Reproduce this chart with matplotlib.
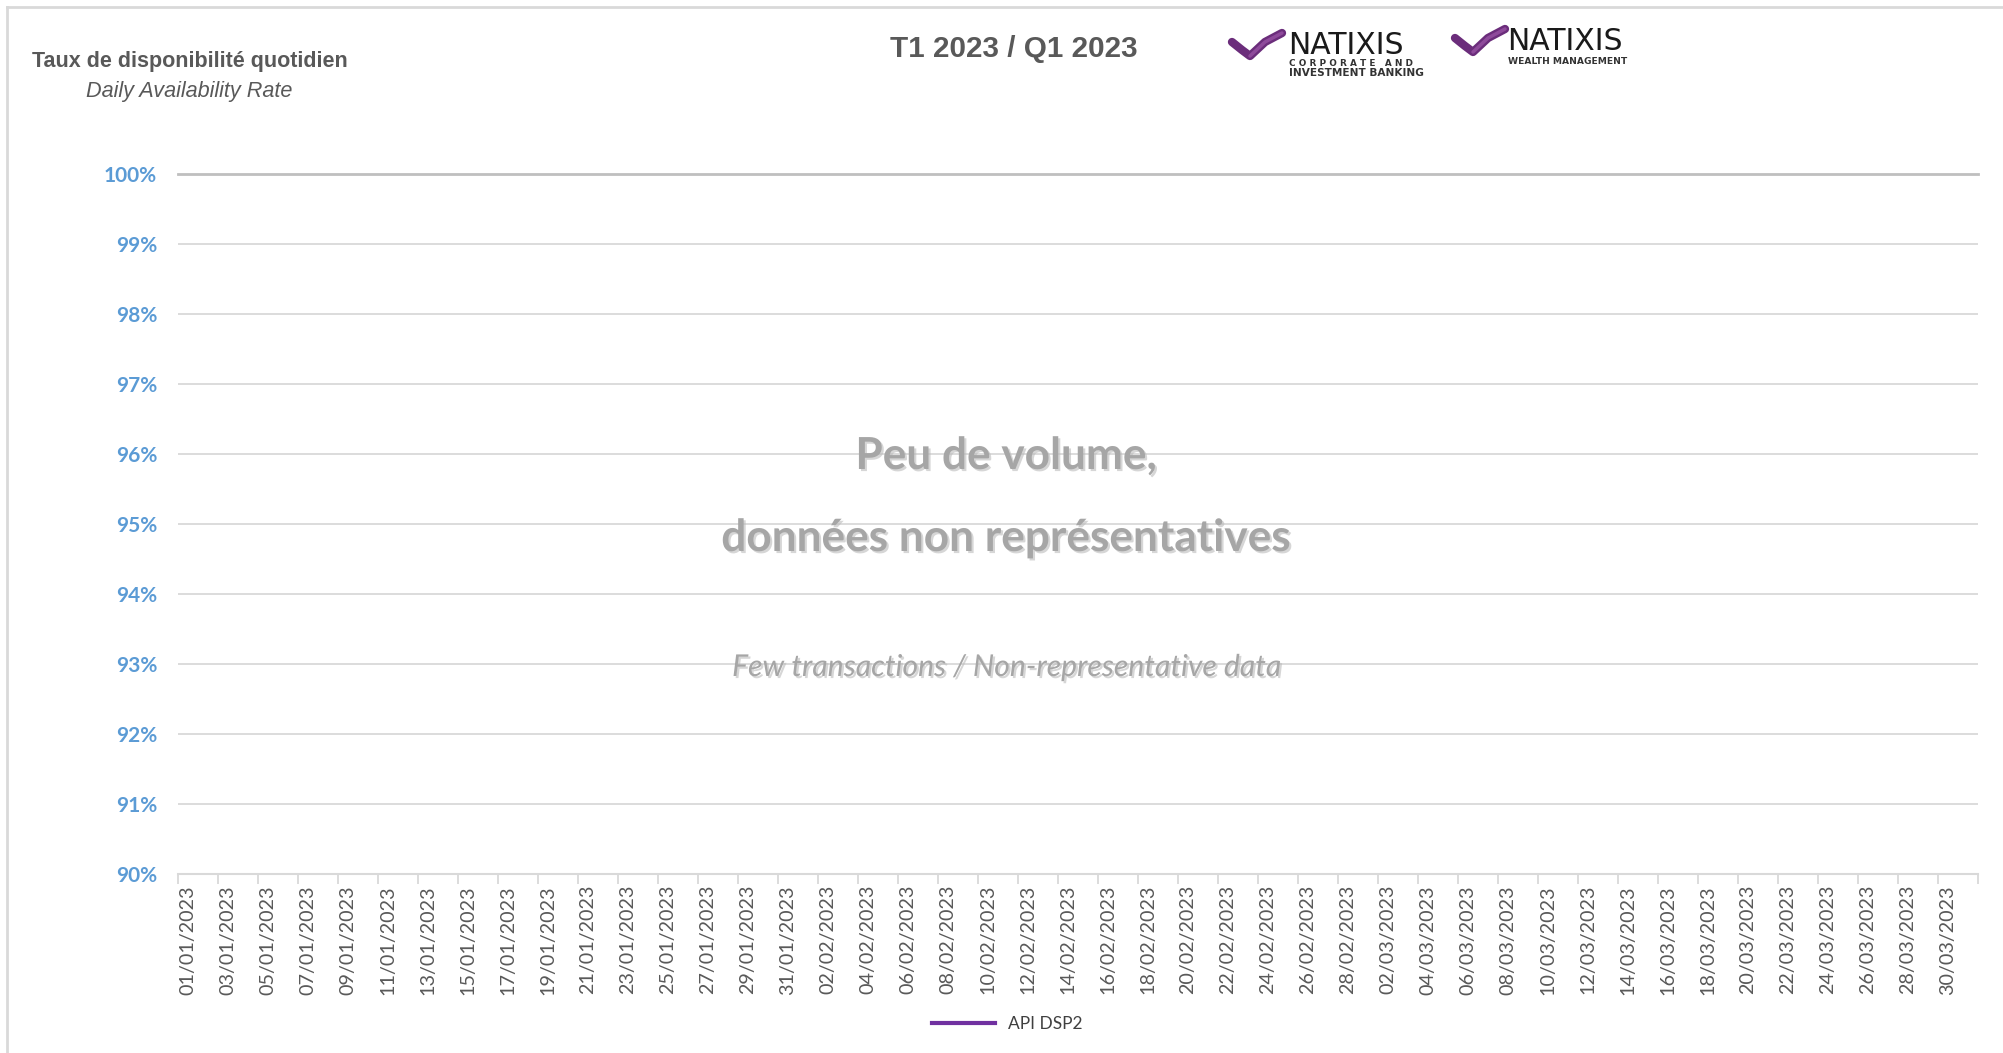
import numpy as np
import pandas as pd
import matplotlib
matplotlib.use('Agg')
import matplotlib.pyplot as plt
import matplotlib.patheffects as pe
from matplotlib.lines import Line2D

# days of Q1 2023 - one category per day
dates = pd.date_range('2023-01-01', '2023-03-31', freq='D').strftime('%d/%m/%Y').tolist()
# no representative volume -> nothing plotted for the series
api_dsp2 = [np.nan] * len(dates)
series_name = 'API DSP2'
y_ticks = [0.90, 0.91, 0.92, 0.93, 0.94, 0.95, 0.96, 0.97, 0.98, 0.99, 1.00]

W, H = 2003, 1053
narrow = ['Liberation Sans', 'DejaVu Sans']
body = ['Lato', 'DejaVu Sans']

def px(x, y):
  # pixel position (top-left origin) -> figure fraction
  return x / W, 1 - y / H

fig = plt.figure(figsize=(W / 100, H / 100), dpi=100)
ax = fig.add_axes([178 / W, (H - 874) / H, 1800 / W, 700 / H])

x = np.arange(len(dates))
ax.plot(x, api_dsp2, color='#7030A0', lw=3, label=series_name)

ax.set_xlim(-0.5, len(dates) - 0.5)
ax.set_ylim(0.90, 1.00)

# gridlines, the 100% one is a bit darker
for v in y_ticks[:-1]:
  ax.axhline(v, color='#D9D9D9', lw=1.3, zorder=0)
ax.axhline(1.00, color='#BFBFBF', lw=2, zorder=0, clip_on=False)

ax.set_yticks(y_ticks)
ax.set_yticklabels(['{:.0%}'.format(v) for v in y_ticks])
ax.tick_params(axis='y', length=0, pad=15)
for lbl in ax.get_yticklabels():
  lbl.set_fontfamily(body)
  lbl.set_fontweight('bold')
  lbl.set_fontsize(15)
  lbl.set_color('#5B9BD5')

# Excel style category axis: tick marks between every 2 days, labels on day centres
ax.set_xticks(np.arange(-0.5, len(dates), 2))
ax.set_xticklabels([])
ax.set_xticks(x[::2], minor=True)
ax.set_xticklabels(dates[::2], minor=True, rotation=90, fontfamily=body,
                   fontsize=14.2, color='#595959', va='top', ha='center')
ax.tick_params(axis='x', which='major', length=7, width=1.3, color='#D9D9D9', direction='out')
ax.tick_params(axis='x', which='minor', length=0, pad=8)

for s in ['top', 'right', 'left']:
  ax.spines[s].set_visible(False)
ax.spines['bottom'].set_color('#D9D9D9')
ax.spines['bottom'].set_linewidth(1.5)

# watermark text in the middle of the plot
shadow = [pe.SimplePatchShadow(offset=(1.5, -1.5), shadow_rgbFace='#BBBBBB', alpha=0.6), pe.Normal()]
fig.text(*px(1006, 456), 'Peu de volume,', ha='center', va='center', fontsize=31.8,
         fontweight='bold', color='#A6A6A6', fontfamily=body, path_effects=shadow)
fig.text(*px(1006, 538), 'données non représentatives', ha='center', va='center', fontsize=31.8,
         fontweight='bold', color='#A6A6A6', fontfamily=body, path_effects=shadow)
fig.text(*px(1006, 667), 'Few transactions / Non-representative data', ha='center', va='center',
         fontsize=21.7, style='italic', color='#A6A6A6', fontfamily=body, path_effects=shadow)

# titles
fig.text(*px(32, 61), 'Taux de disponibilité quotidien', ha='left', va='center', fontsize=15.5,
         fontweight='bold', color='#595959', fontfamily=narrow)
fig.text(*px(86, 92), 'Daily Availability Rate', ha='left', va='center', fontsize=15.6,
         style='italic', color='#595959', fontfamily=narrow)
fig.text(*px(890, 49), 'T1 2023 / Q1 2023', ha='left', va='center', fontsize=21.3,
         fontweight='bold', color='#595959', fontfamily=narrow)

# logos (swoosh + wordmark)
def swoosh(x0, y0):
  pts = [(x0 + 2, y0 + 10), (x0 + 12, y0 + 18), (x0 + 20, y0 + 24), (x0 + 35, y0 + 10), (x0 + 52, y0 + 1)]
  xs, ys = zip(*[px(a, b) for a, b in pts])
  fig.add_artist(Line2D(xs, ys, transform=fig.transFigure, color='#6B2D7B', lw=6,
                        solid_capstyle='round', solid_joinstyle='round'))
  fig.add_artist(Line2D(xs[2:], ys[2:], transform=fig.transFigure, color='#8E4A9B', lw=2.5,
                        solid_capstyle='round'))

swoosh(1230, 32)
fig.text(*px(1288, 46), 'NATIXIS', ha='left', va='center', fontsize=21.5, color='#1A1A1A',
         fontfamily='DejaVu Sans')
fig.text(*px(1289, 64), 'C O R P O R A T E   A N D', ha='left', va='center', fontsize=6.4,
         fontweight='bold', color='#333333', fontfamily='DejaVu Sans')
fig.text(*px(1289, 73), 'INVESTMENT BANKING', ha='left', va='center', fontsize=7.6,
         fontweight='bold', color='#333333', fontfamily='DejaVu Sans')

swoosh(1453, 28)
fig.text(*px(1507, 42), 'NATIXIS', ha='left', va='center', fontsize=21.5, color='#1A1A1A',
         fontfamily='DejaVu Sans')
fig.text(*px(1508, 61), 'WEALTH MANAGEMENT', ha='left', va='center', fontsize=6.6,
         fontweight='bold', color='#333333', fontfamily='DejaVu Sans')

# legend at the bottom
leg = fig.legend(loc='center', bbox_to_anchor=(0.503, (H - 1024) / H), frameon=False,
                 handlelength=3.6, prop={'family': body, 'size': 12.5})
for t in leg.get_texts():
  t.set_color('#404040')

# light chart frame (left and top edges visible)
fig.add_artist(Line2D([7 / W, 7 / W], [0, 1 - 7 / H], transform=fig.transFigure, color='#D9D9D9', lw=2))
fig.add_artist(Line2D([7 / W, 1], [1 - 7 / H, 1 - 7 / H], transform=fig.transFigure, color='#D9D9D9', lw=2))

fig.savefig('out.png', dpi=100, facecolor='white')
